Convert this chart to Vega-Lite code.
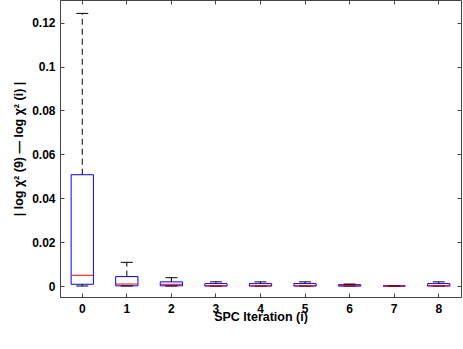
{
  "$schema": "https://vega.github.io/schema/vega-lite/v6.json",
  "width": 401,
  "height": 297,
  "autosize": "none",
  "padding": {"left": 60, "top": 0, "right": 2, "bottom": 52},
  "background": "white",
  "config": {
    "view": {"stroke": "#444", "strokeWidth": 1},
    "axis": {
      "labelFont": "Liberation Sans", "labelFontWeight": "bold", "labelFontSize": 12, "labelColor": "#000",
      "titleFont": "Liberation Sans", "titleFontWeight": "bold", "titleFontSize": 12.5, "titleColor": "#000",
      "domainColor": "#444", "tickColor": "#444", "grid": false
    }
  },
  "data": {
    "values": [
      {"iter": "0", "lo": 0, "q1": 0.0008, "med": 0.0049, "q3": 0.0507, "hi": 0.1242},
      {"iter": "1", "lo": 0, "q1": 0.0001, "med": 0.0009, "q3": 0.0043, "hi": 0.0108},
      {"iter": "2", "lo": 0, "q1": 0.0001, "med": 0.0008, "q3": 0.0019, "hi": 0.0038},
      {"iter": "3", "lo": 0, "q1": 0, "med": 0.0001, "q3": 0.0011, "hi": 0.0019},
      {"iter": "4", "lo": 0, "q1": 0, "med": 0.0001, "q3": 0.0011, "hi": 0.0019},
      {"iter": "5", "lo": 0, "q1": 0, "med": 0.0001, "q3": 0.0011, "hi": 0.0019},
      {"iter": "6", "lo": 0, "q1": 0, "med": 0.0001, "q3": 0.0006, "hi": 0.0009},
      {"iter": "7", "lo": 0, "q1": 0, "med": 0.00003, "q3": 0.00006, "hi": 0.0001},
      {"iter": "8", "lo": 0, "q1": 0, "med": 0.0001, "q3": 0.0011, "hi": 0.0019}
    ]
  },
  "resolve": {"axis": {"x": "independent", "y": "independent"}},
  "layer": [
    {
      "mark": {"type": "rule", "strokeDash": [6, 4], "color": "#000", "strokeWidth": 1},
      "encoding": {
        "x": {"field": "iter", "type": "ordinal", "scale": {"paddingInner": 0, "paddingOuter": 0},
          "axis": {"orient": "bottom", "labelAngle": 0, "tickSize": -4, "labelPadding": 10, "title": "SPC Iteration (i)", "titlePadding": -4}},
        "y": {"field": "q3", "type": "quantitative", "scale": {"domain": [-0.005, 0.1303], "nice": false, "zero": false},
          "axis": {"orient": "left", "values": [0, 0.02, 0.04, 0.06, 0.08, 0.1, 0.12], "format": "~g", "tickSize": -4, "labelPadding": 9, "title": "| log χ² (9) — log χ² (i) |", "titlePadding": 6}},
        "y2": {"field": "hi"}
      }
    },
    {
      "mark": {"type": "rule", "strokeDash": [6, 4], "color": "#000", "strokeWidth": 1},
      "encoding": {
        "x": {"field": "iter", "type": "ordinal", "axis": null},
        "y": {"field": "lo", "type": "quantitative", "axis": null},
        "y2": {"field": "q1"}
      }
    },
    {
      "mark": {"type": "bar", "fill": null, "fillOpacity": 0, "stroke": "#0000ff", "strokeWidth": 1, "width": {"band": 0.5}},
      "encoding": {
        "x": {"field": "iter", "type": "ordinal", "axis": {"orient": "top", "labels": false, "domain": false, "tickSize": -4, "title": null}},
        "y": {"field": "q1", "type": "quantitative", "axis": {"orient": "right", "labels": false, "domain": false, "tickSize": -4, "title": null, "values": [0, 0.02, 0.04, 0.06, 0.08, 0.1, 0.12]}},
        "y2": {"field": "q3"}
      }
    },
    {
      "mark": {"type": "tick", "color": "#000", "size": 12, "thickness": 1, "opacity": 1},
      "encoding": {
        "x": {"field": "iter", "type": "ordinal", "axis": null},
        "y": {"field": "hi", "type": "quantitative", "axis": null}
      }
    },
    {
      "mark": {"type": "tick", "color": "#000", "size": 12, "thickness": 1, "opacity": 1},
      "encoding": {
        "x": {"field": "iter", "type": "ordinal", "axis": null},
        "y": {"field": "lo", "type": "quantitative", "axis": null}
      }
    },
    {
      "mark": {"type": "tick", "color": "#ff0000", "size": 22, "thickness": 1, "opacity": 1},
      "encoding": {
        "x": {"field": "iter", "type": "ordinal", "axis": null},
        "y": {"field": "med", "type": "quantitative", "axis": null}
      }
    }
  ]
}
